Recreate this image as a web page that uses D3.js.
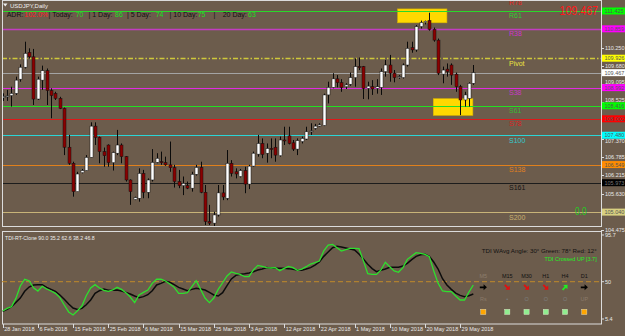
<!DOCTYPE html>
<html>
<head>
<meta charset="utf-8">
<script src="https://cdn.jsdelivr.net/npm/d3@7"></script>
<style>
html, body { margin: 0; padding: 0; background: #6c5c4c; }
svg { display: block; font-family: Arial, "Liberation Sans", sans-serif; }
</style>
</head>
<body>
<div id="chart"></div>
<script>
// ---- data (USDJPY daily, Sun-Fri bars from 28 Jan 2018) ----
const opens  = [108.67,108.72,108.74,108.81,109.26,109.64,110.11,109.97,108.63,109.23,109.53,108.90,108.81,108.65,108.33,107.10,106.59,105.69,106.29,106.36,106.78,107.77,107.41,106.96,107.17,106.61,106.91,107.17,106.80,106.06,105.44,105.48,106.27,105.67,106.06,106.62,106.64,106.61,106.54,106.45,106.01,105.88,105.88,105.80,106.24,106.46,105.67,104.74,104.69,104.95,105.65,105.48,106.59,106.32,106.17,106.36,105.93,106.50,106.88,107.22,106.91,107.06,107.10,106.83,107.33,107.46,107.24,107.04,107.28,107.36,107.59,107.70,107.77,107.79,108.76,109.00,109.27,109.15,109.02,109.10,109.31,109.66,109.66,108.97,109.02,108.97,109.00,109.50,109.71,109.45,109.31,109.31,109.71,110.26,110.19,110.93,111.06,111.12,110.84,110.50,109.42,109.58,109.71,109.42,109.02,108.60,108.65,109.13];
const highs  = [108.81,108.92,109.02,109.34,109.73,110.45,110.24,110.22,109.34,109.69,109.60,108.97,108.86,108.70,108.36,107.49,106.64,106.32,106.41,106.85,107.89,107.89,107.44,107.09,107.19,106.96,107.65,107.22,106.82,106.08,105.53,106.43,106.38,106.11,107.04,106.91,106.96,106.80,107.28,106.54,106.38,106.17,106.01,106.32,106.54,106.64,105.90,105.27,105.05,105.90,105.90,107.01,106.69,106.43,106.41,106.48,106.54,106.96,107.49,107.38,107.22,107.38,107.38,107.44,107.75,107.75,107.33,107.38,107.44,107.75,107.86,107.84,107.86,108.80,109.18,109.45,109.39,109.26,109.13,109.47,109.92,109.95,109.68,109.18,109.23,109.26,109.60,109.87,110.03,109.55,109.39,109.76,110.45,110.45,110.98,111.12,111.12,111.37,110.90,110.55,109.66,109.76,109.76,109.47,109.08,108.86,109.16,109.71];
const lows   = [108.57,108.57,108.39,108.76,109.18,109.60,109.92,108.44,108.60,108.92,108.44,108.02,108.60,108.31,106.85,106.54,105.53,105.69,106.27,106.35,106.78,107.17,106.59,106.48,106.48,106.36,106.85,106.59,106.01,105.27,105.42,105.37,105.48,105.48,106.01,106.59,106.54,106.51,106.32,105.82,105.80,105.58,105.77,105.69,106.20,105.64,104.63,104.63,104.56,104.90,105.42,105.42,106.17,106.11,106.14,105.64,105.77,106.48,106.80,106.75,106.61,106.75,106.64,106.80,107.17,107.19,106.98,106.85,107.22,107.33,107.49,107.66,107.75,107.77,108.49,108.97,109.00,108.86,108.95,109.05,109.02,109.55,108.63,108.62,108.76,108.80,108.76,109.34,109.18,109.16,109.27,109.28,109.66,110.10,110.13,110.87,111.00,110.80,110.45,109.39,109.13,109.34,109.08,108.86,108.12,108.39,108.39,109.08];
const closes = [108.71,108.73,108.81,109.23,109.64,110.08,109.97,108.63,109.26,109.53,108.90,108.74,108.65,108.33,107.10,106.59,105.69,106.25,106.36,106.78,107.77,107.41,106.96,106.83,106.61,106.93,107.17,106.80,106.06,105.69,105.50,106.27,105.67,106.06,106.62,106.75,106.61,106.54,106.45,106.01,105.88,105.95,105.80,106.24,106.46,105.67,104.74,104.69,104.95,105.65,105.52,106.59,106.27,106.25,106.36,105.93,106.50,106.91,107.22,106.87,107.06,107.04,106.85,107.33,107.31,107.22,107.04,107.31,107.38,107.59,107.62,107.77,107.81,108.76,109.00,109.27,109.15,109.00,109.08,109.31,109.66,109.63,108.97,109.04,108.95,109.02,109.50,109.71,109.45,109.31,109.34,109.71,110.24,110.19,110.93,111.06,111.10,110.84,110.50,109.45,109.55,109.50,109.39,109.02,108.60,108.76,109.13,109.467];

// TDI sub window
const tdiGreen = [21.3,23.9,25.6,33.7,45.8,52.4,51.0,44.1,40.9,45.5,42.9,40.9,38.6,34.4,27.2,20.4,17.4,21.6,26.2,36.3,43.8,47.1,43.8,41.6,40.6,41.9,44.5,42.5,39.3,35.0,29.5,37.0,39.6,41.9,48.4,52.4,52.4,50.7,47.8,44.5,38.6,38.6,39.3,45.1,51.0,42.5,34.0,29.5,34.0,42.5,49.0,55.6,59.5,58.2,57.2,54.9,54.9,61.5,66.0,65.0,63.8,63.4,63.8,60.8,63.1,65.0,63.8,61.2,62.4,64.7,67.3,68.6,70.2,80.3,85.9,86.5,83.3,80.0,81.4,82.7,82.7,82.4,70.6,57.8,57.2,57.2,61.5,69.0,64.7,60.5,59.2,63.8,71.9,75.1,78.4,77.7,76.8,74.5,60.8,48.4,40.9,40.3,40.3,36.0,32.1,32.1,39.9,46.8];
const tdiBlack = [21.0,22.9,25.6,29.8,34.0,40.6,44.8,46.8,47.1,47.1,44.5,42.5,40.6,37.0,32.8,28.2,24.2,22.9,23.9,27.5,32.1,38.6,41.2,42.9,41.6,41.6,41.9,40.9,39.6,38.0,36.0,34.4,35.4,37.3,41.2,46.8,48.4,50.4,49.4,47.1,44.5,42.9,41.2,42.5,43.5,42.9,41.9,39.6,37.0,36.0,39.3,46.1,52.7,56.2,57.2,57.8,58.5,59.8,61.5,62.4,63.8,63.4,63.1,63.1,63.1,62.8,62.1,61.5,61.2,62.4,63.8,66.3,69.3,74.8,79.0,83.3,84.6,84.0,83.0,82.0,81.0,77.1,72.2,67.0,62.8,59.8,61.2,62.4,64.1,64.1,64.1,65.3,68.0,71.6,74.8,76.4,76.8,74.8,69.3,62.4,52.9,46.8,42.5,38.9,36.6,35.4,36.3,38.0];
const tdiLevels = [95.7, 50, 5.4];

// pivot / fibonacci levels
const levelNames  = ["R78","R61","R38","Pivot","S38","S61","S78","S100","S138","S161","S200"];
const levelValues = [111.849,111.425,110.859,109.926,108.992,108.416,108.002,107.480,106.549,105.973,105.040];
const levelColors = ["#e01818","#2ad82a","#c23cc2","#cfc83a","#e22ae2","#22e022","#e01818","#2ad6d6","#e0801c","#1c1c1c","#c8b478"];
const labelColors = ["#e82020","#33cc33","#cc33cc","#ece440","#c838c8","#33bb33","#dd2222","#33cccc","#e08020","#141414","#c8b070"];
const boxColors   = [null,"#00ff00","#ff00ff","#ffff00","#ff00ff","#00ff00","#ff0000","#00ffff","#ff8c00","#000000","#d8d080"];
const lastPrice = 109.467;

const priceTicks = [110.250,109.680,109.095,108.525,107.370,106.785,106.215,105.630,104.475];
const dateLabels = ["28 Jan 2018","6 Feb 2018","15 Feb 2018","25 Feb 2018","6 Mar 2018","15 Mar 2018","25 Mar 2018","3 Apr 2018","12 Apr 2018","22 Apr 2018","1 May 2018","10 May 2018","20 May 2018","29 May 2018"];
const dateBars   = [0,8,16,24,32,40,48,56,64,72,80,88,96,104];

// projected daily range boxes [bar from, bar to, price low, price high]
const rangeBoxes = [[89.8,101.0,111.05,111.49],[97.9,106.9,108.11,108.64]];

// header texts
const adrParts  = ["ADR:","102.0%","| Today:","70","| 1 Day:","86","| 5 Day:","74","| 10 Day:","75","|","20 Day:","63"];
const adrKinds  = ["k","r","k","g","k","g","k","g","k","g","k","k","g"];
const tdiTitle  = "TDI-RT-Clone 90.0 35.2 62.6 38.2 46.8";
const timeframes = ["M5","M15","M30","H1","H4","D1"];
const tfArrow   = [0, 45, 45, 45, -45, 0];          // direction in degrees
const tfArrowCol= ["#000","#e01010","#e01010","#e01010","#22ee22","#000"];
const tfState   = ["Rs","•","O","O","O","UP"];
const tfSquare  = ["#ffa500","#90ee90","#90ee90","#90ee90","#90ee90","#ffa500"];

// ---- layout ----
const W = 625, H = 336, BG = "#6c5c4c", FG = "#dcdcdc";
const left = 2, right = 601, mainTop = 0.5, mainBottom = 226.5, subTop = 231.5, subBottom = 324;

const svg = d3.select("#chart").append("svg").attr("width", W).attr("height", H);
svg.append("rect").attr("width", W).attr("height", H).attr("fill", BG);

const x  = d3.scaleLinear().domain([0, 107]).range([2.7, 473.3]);
const y  = d3.scaleLinear().domain([104.475, 110.25]).range([229.9, 48]);
const yT = d3.scaleLinear().domain([5.4, 95.7]).range([327.3, 235]);

const defs = svg.append("defs");
defs.append("clipPath").attr("id","clipMain").append("rect")
    .attr("x", left).attr("y", mainTop).attr("width", right-left).attr("height", mainBottom-mainTop);
defs.append("clipPath").attr("id","clipSub").append("rect")
    .attr("x", left).attr("y", subTop).attr("width", right-left).attr("height", subBottom-subTop);

const gMain = svg.append("g").attr("clip-path","url(#clipMain)");

// range boxes (behind candles)
gMain.selectAll(".rbox").data(rangeBoxes).join("rect")
    .attr("x", d => x(d[0])).attr("width", d => x(d[1]) - x(d[0]))
    .attr("y", d => y(d[3])).attr("height", d => y(d[2]) - y(d[3]))
    .attr("fill", "#ffd800").attr("stroke", "#d8b400").attr("stroke-width", 0.6);

// level lines
gMain.selectAll(".lvl").data(levelValues).join("line")
    .attr("x1", left).attr("x2", right)
    .attr("y1", d => Math.round(y(d)) + 0.5).attr("y2", d => Math.round(y(d)) + 0.5)
    .attr("stroke", (d,i) => levelColors[i])
    .attr("stroke-width", (d,i) => levelNames[i] == "Pivot" ? 1.6 : (levelNames[i] == "R38" ? 1.6 : 1.2))
    .attr("stroke-dasharray", (d,i) => levelNames[i] == "Pivot" ? "5,2,1.5,2" : null);

// last price line
gMain.append("line").attr("x1", left).attr("x2", right)
    .attr("y1", Math.round(y(lastPrice)) + 0.5).attr("y2", Math.round(y(lastPrice)) + 0.5)
    .attr("stroke", "#a4a4a4").attr("stroke-width", 1);

// candles
const idx = d3.range(closes.length);
const cg = gMain.append("g").selectAll("g").data(idx).join("g");
cg.append("line")
    .attr("x1", i => Math.round(x(i)) + 0.5).attr("x2", i => Math.round(x(i)) + 0.5)
    .attr("y1", i => y(highs[i])).attr("y2", i => y(lows[i]))
    .attr("stroke", "#0a0a0a").attr("stroke-width", 1);
cg.append("rect")
    .attr("x", i => Math.round(x(i)) - 1).attr("width", 3)
    .attr("y", i => y(Math.max(opens[i], closes[i])))
    .attr("height", i => Math.max(1, Math.abs(y(opens[i]) - y(closes[i]))))
    .attr("fill", i => closes[i] >= opens[i] ? "#ffffff" : "#8a0000")
    .attr("stroke", "#111").attr("stroke-width", 0.5);

// level labels
gMain.selectAll(".lvlTxt").data(levelValues).join("text")
    .attr("x", 509).attr("y", d => y(d) + 7.5)
    .attr("font-size", 7).attr("fill", (d,i) => labelColors[i])
    .text((d,i) => levelNames[i]);

// big last price (narrowed with a horizontal scale) and zero reading
gMain.append("text").attr("transform", "translate(598,15) scale(0.82,1)").attr("text-anchor","end")
    .attr("font-size", 13).attr("fill", "#ff1a1a")
    .text(lastPrice.toFixed(3));
gMain.append("text").attr("transform", "translate(575,215) scale(0.85,1)").attr("font-size", 10)
    .attr("fill", "#22cc22")
    .text("0.0");

// header
svg.append("path").attr("d","M3,3.5L7.5,3.5L5.25,6.5Z").attr("fill", "#eee");
svg.append("text").attr("x", 10).attr("y", 7.5).attr("font-size", 6).attr("fill", "#eee").text("USDJPY,Daily");
const adrX = [6.7,24.3,48.5,75.7,88.5,115,127,155.7,169.5,197.7,213.5,222.7,248];
svg.selectAll(".adr").data(adrParts).join("text")
    .attr("x", (d,i) => adrX[i]).attr("y", 17).attr("font-size", 7)
    .attr("fill", (d,i) => adrKinds[i] == "r" ? "#ff2222" : adrKinds[i] == "g" ? "#22dd22" : "#111")
    .text(d => d);

// panel borders
svg.append("rect").attr("x", left + 0.5).attr("y", mainTop).attr("width", right - left).attr("height", mainBottom - mainTop)
    .attr("fill","none").attr("stroke", FG).attr("stroke-width", 1);
svg.append("rect").attr("x", left + 0.5).attr("y", subTop).attr("width", right - left).attr("height", subBottom - subTop)
    .attr("fill","none").attr("stroke", FG).attr("stroke-width", 1);

// price axis
const boxes = levelValues.map((v,i) => ({v: v, c: boxColors[i]})).filter(d => d.c && d.v < 111.7);
boxes.splice(3, 0, {v: lastPrice, c: "#ffffff"});
// keep tick labels clear of the coloured level boxes
function tickBase(p) {
    let b = y(p) + 2;
    boxes.forEach(bx => {
        const c = y(bx.v), top = c - 3.5, bot = c + 3.5;
        if (b > top && b - 4 < bot) b = (y(p) < c) ? top - 0.3 : bot + 4.3;
    });
    return b;
}
const ax = svg.append("g");
ax.selectAll(".tk").data(priceTicks).join("line")
    .attr("x1", right).attr("x2", right + 3)
    .attr("y1", d => Math.round(y(d)) + 0.5).attr("y2", d => Math.round(y(d)) + 0.5)
    .attr("stroke", FG);
ax.selectAll(".tl").data(priceTicks).join("text")
    .attr("x", 605).attr("y", d => tickBase(d)).attr("font-size", 5.5).attr("fill", "#e8e8e8")
    .text(d => d.toFixed(3));
ax.selectAll(".pb").data(boxes).join("rect")
    .attr("x", 602).attr("y", d => y(d.v) - 3.5).attr("width", 23).attr("height", 7)
    .attr("fill", d => d.c);
ax.selectAll(".pbt").data(boxes).join("text")
    .attr("x", 604.5).attr("y", d => y(d.v) + 2).attr("font-size", 5.5)
    .attr("fill", d => d.c == "#000000" ? "#777" : "#555")
    .text(d => d.v.toFixed(3));

// ---- TDI sub window ----
const gSub = svg.append("g").attr("clip-path","url(#clipSub)");
gSub.append("line").attr("x1", left).attr("x2", right)
    .attr("y1", yT(50)).attr("y2", yT(50))
    .attr("stroke", "#c08a2a").attr("stroke-width", 1).attr("stroke-dasharray", "5,3");
const line = arr => d3.line().x((d,i) => x(i)).y(d => yT(d))(arr);
gSub.append("path").attr("d", line(tdiBlack)).attr("fill","none").attr("stroke","#0c0c0c").attr("stroke-width", 1.5);
gSub.append("path").attr("d", line(tdiGreen)).attr("fill","none").attr("stroke","#2ee02e").attr("stroke-width", 1.3);

svg.append("text").attr("x", 5).attr("y", 239.5).attr("font-size", 5.2).attr("fill", "#eee").text(tdiTitle);
svg.append("text").attr("x", 481.7).attr("y", 252.5).attr("font-size", 5.5).attr("fill", "#111")
    .attr("textLength", 115).attr("lengthAdjust","spacingAndGlyphs")
    .text("TDI WAvg Angle: 30°  Green: 78°  Red: 12°");
svg.append("text").attr("x", 596.7).attr("y", 261).attr("text-anchor","end").attr("font-size", 5.5)
    .attr("fill", "#22ee22").text("TDI Crossed UP [3.7]");

const tfX = k => k == 0 ? 483.3 : 507.3 + (k - 1) * 19.25;
const tf = svg.append("g").selectAll("g").data(timeframes).join("g");
tf.append("text").attr("x", (d,k) => tfX(k)).attr("y", 277.5).attr("text-anchor","middle")
    .attr("font-size", 5.5).attr("fill", (d,k) => k == 0 ? "#8d7d6d" : "#111").text(d => d);
tf.append("path")
    .attr("d", "M-3.5,-0.9L0.3,-0.9L0.3,-3L3.6,0L0.3,3L0.3,0.9L-3.5,0.9Z")
    .attr("transform", (d,k) => `translate(${tfX(k)},287.3) rotate(${tfArrow[k]})`)
    .attr("fill", (d,k) => tfArrowCol[k]);
tf.append("text").attr("x", (d,k) => tfX(k)).attr("y", 301).attr("text-anchor","middle")
    .attr("font-size", 5.5).attr("fill", (d,k) => (k == 0 || k == 5) ? "#8a7a6a" : "#7c7c7c")
    .text((d,k) => tfState[k]);
tf.append("rect").attr("x", (d,k) => tfX(k) - 2.6).attr("y", 309.3).attr("width", 5.2).attr("height", 5.2)
    .attr("fill", (d,k) => tfSquare[k]).attr("stroke", "#e8e8d0").attr("stroke-width", 0.4);

// sub axis labels
svg.selectAll(".stl").data(tdiLevels).join("text")
    .attr("x", 605).attr("y", d => Math.min(yT(d), subBottom - 5) + 2)
    .attr("font-size", 5.5).attr("fill", "#e8e8e8").text(d => d);
svg.selectAll(".stk").data(tdiLevels).join("line")
    .attr("x1", right).attr("x2", right + 3)
    .attr("y1", d => Math.min(yT(d), subBottom - 5)).attr("y2", d => Math.min(yT(d), subBottom - 5))
    .attr("stroke", FG);

// time axis
const tx = svg.append("g");
tx.selectAll("line").data(dateBars).join("line")
    .attr("x1", d => Math.round(x(d)) + 0.5).attr("x2", d => Math.round(x(d)) + 0.5)
    .attr("y1", subBottom).attr("y2", subBottom + 4).attr("stroke", FG);
tx.selectAll("text").data(dateBars).join("text")
    .attr("x", d => Math.max(1.7, x(d) + 1.5)).attr("y", 331).attr("font-size", 5.5)
    .attr("fill", "#e8e8e8").text((d,i) => dateLabels[i]);
</script>
</body>
</html>
